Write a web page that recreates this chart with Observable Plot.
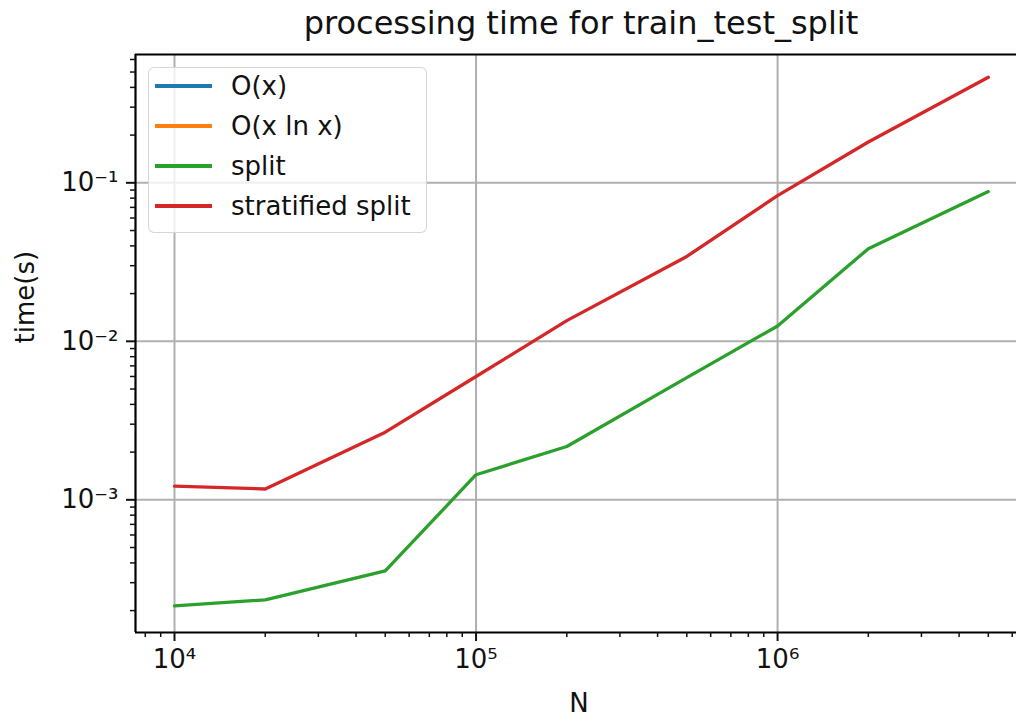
<!DOCTYPE html>
<html><head><meta charset="utf-8">
<script src="https://cdn.jsdelivr.net/npm/d3@7"></script>
<script src="https://cdn.jsdelivr.net/npm/@observablehq/plot@0.6"></script>
<style>
html,body{margin:0;padding:0;background:#fff;overflow:hidden;}
#wrap{position:relative;width:1016px;height:721px;font-family:"DejaVu Sans",sans-serif;color:#000;}
#title{position:absolute;left:581px;top:4px;transform:translateX(-50%);white-space:nowrap;font-size:32px;line-height:38px;color:#111;}
#chart{position:absolute;left:0;top:44px;}
#legend{position:absolute;left:148px;top:67px;width:277px;height:164px;border:1.5px solid rgba(204,204,204,0.8);border-radius:6px;background:rgba(255,255,255,0.8);}
.handle{position:absolute;left:6px;width:57px;height:4px;}
.lab{position:absolute;left:82px;font-size:26px;line-height:36px;white-space:nowrap;color:#111;}
</style>
</head><body>
<div id="wrap">
  <div id="title"></div>
  <div id="chart"></div>
  <div id="legend"></div>
</div>
<script>
// ---- data ----
const titleText = "processing time for train_test_split";
const xLabel = "N";
const yLabel = "time(s)";
const N = [1e4, 2e4, 5e4, 1e5, 2e5, 5e5, 1e6, 2e6, 5e6];
const splitTime = [2.14e-4, 2.34e-4, 3.56e-4, 1.44e-3, 2.17e-3, 5.9e-3, 1.25e-2, 3.84e-2, 8.8e-2];
const stratifiedTime = [1.22e-3, 1.17e-3, 2.67e-3, 6.0e-3, 1.35e-2, 3.43e-2, 8.3e-2, 0.181, 0.463];
const seriesNames = ["O(x)", "O(x ln x)", "split", "stratified split"];
const seriesColors = ["#1f77b4", "#ff7f0e", "#2ca02c", "#d62728"];
const xDomain = [7424, 6.2e6];
const yDomain = [1.455e-4, 0.645];
const xMajor = [1e4, 1e5, 1e6];
const xMinor = [8e3, 9e3, 2e4, 3e4, 4e4, 5e4, 6e4, 7e4, 8e4, 9e4, 2e5, 3e5, 4e5, 5e5, 6e5, 7e5, 8e5, 9e5, 2e6, 3e6, 4e6, 5e6, 6e6];
const yMajor = [1e-3, 1e-2, 1e-1];
const yMinor = [2e-4, 3e-4, 4e-4, 5e-4, 6e-4, 7e-4, 8e-4, 9e-4, 2e-3, 3e-3, 4e-3, 5e-3, 6e-3, 7e-3, 8e-3, 9e-3, 2e-2, 3e-2, 4e-2, 5e-2, 6e-2, 7e-2, 8e-2, 9e-2, 2e-1, 3e-1, 4e-1, 5e-1, 6e-1];

const sup = {"0":"⁰","1":"¹","2":"²","3":"³","4":"⁴","5":"⁵","6":"⁶","7":"⁷","8":"⁸","9":"⁹","-":"⁻"};
const fmt = v => "10" + String(Math.round(Math.log10(v))).split("").map(c => sup[c]).join("");

const splitData = N.map((n, i) => ({n, t: splitTime[i]}));
const stratData = N.map((n, i) => ({n, t: stratifiedTime[i]}));

document.getElementById("title").textContent = titleText;

const gridStyle = {stroke: "#b0b0b0", strokeOpacity: 1, strokeWidth: 2};
const chart = Plot.plot({
  width: 1016, height: 677,
  marginTop: 10, marginBottom: 89, marginLeft: 135, marginRight: 0,
  style: {fontFamily: "DejaVu Sans", fontSize: "26px", color: "#111", background: "transparent"},
  x: {type: "log", domain: xDomain},
  y: {type: "log", domain: yDomain},
  marks: [
    Plot.gridX(xMajor, gridStyle),
    Plot.gridY(yMajor, gridStyle),
    Plot.line(splitData, {x: "n", y: "t", stroke: seriesColors[2], strokeWidth: 3.3}),
    Plot.line(stratData, {x: "n", y: "t", stroke: seriesColors[3], strokeWidth: 3.3}),
    Plot.ruleX([xDomain[0]], {stroke: "#000", strokeWidth: 2.2}),
    Plot.ruleY(yDomain, {stroke: "#000", strokeWidth: 2.2}),
    Plot.axisX(xMajor, {tickSize: 9, tickPadding: 8, tickFormat: fmt, label: null, strokeWidth: 2, strokeOpacity: 1}),
    Plot.axisX(xMinor, {tickSize: 5, tickFormat: () => "", label: null, strokeWidth: 1.5, strokeOpacity: 1}),
    Plot.axisY(yMajor, {tickSize: 9, tickPadding: 8, tickFormat: fmt, label: null, strokeWidth: 2, strokeOpacity: 1}),
    Plot.axisY(yMinor, {tickSize: 5, tickFormat: () => "", label: null, strokeWidth: 1.5, strokeOpacity: 1}),
    Plot.text([xLabel], {frameAnchor: "bottom", dx: 3, dy: 71, lineAnchor: "middle", fontSize: 26}),
    Plot.text([yLabel], {frameAnchor: "left", rotate: -90, dx: -110, lineAnchor: "middle", fontSize: 26})
  ]
});
document.getElementById("chart").appendChild(chart);

// legend
const legend = document.getElementById("legend");
const rowCenters = [86.7, 126.8, 166.7, 206.7];
seriesNames.forEach((name, i) => {
  const top = rowCenters[i] - 68.5;
  const h = document.createElement("div");
  h.className = "handle";
  h.style.top = (top - 2) + "px";
  h.style.background = seriesColors[i];
  legend.appendChild(h);
  const l = document.createElement("div");
  l.className = "lab";
  l.style.top = (top - 18) + "px";
  l.textContent = name;
  legend.appendChild(l);
});
</script>
</body></html>
